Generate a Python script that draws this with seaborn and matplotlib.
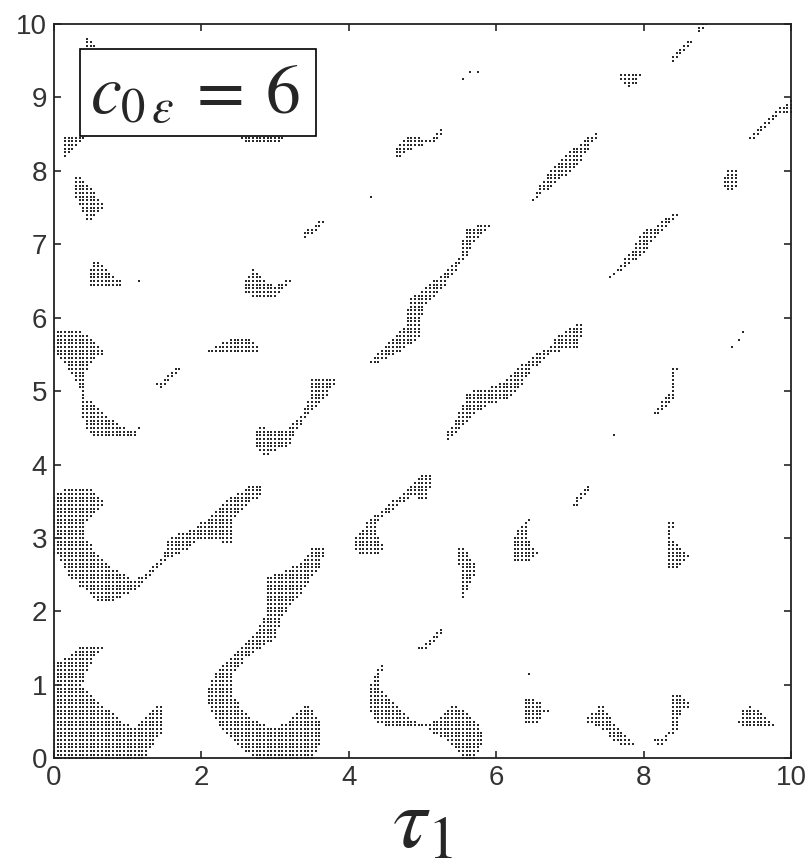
import numpy as np
import pandas as pd
import seaborn as sns
import matplotlib.pyplot as plt
from matplotlib.path import Path
from matplotlib.patches import Rectangle

# outlines of the filled regions in the (tau_1, tau_2) plane
blob_a = [(-0.02, -0.02), (-0.02, 1.3), (0.18, 1.38), (0.36, 1.52), (0.68, 1.52), (0.54, 1.34),
          (0.43, 1.16), (0.4, 1.0), (0.59, 0.79), (0.9, 0.52), (1.09, 0.43), (1.22, 0.52),
          (1.43, 0.74), (1.5, 0.66), (1.5, 0.43), (1.36, 0.2), (1.2, -0.02)]
blob_b = [(2.08, 0.93), (2.13, 1.07), (2.26, 1.25), (2.44, 1.43), (2.62, 1.57), (2.76, 1.75),
          (2.85, 1.93), (2.9, 2.29), (2.87, 2.47), (3.1, 2.55), (3.37, 2.68), (3.52, 2.88),
          (3.68, 2.88), (3.68, 2.79), (3.61, 2.61), (3.48, 2.43), (3.39, 2.3), (3.17, 2.02),
          (3.08, 1.88), (2.99, 1.61), (2.85, 1.52), (2.62, 1.38), (2.44, 1.16), (2.4, 0.93),
          (2.53, 0.7), (2.71, 0.52), (2.94, 0.43), (3.17, 0.47), (3.43, 0.74), (3.54, 0.6),
          (3.64, 0.47), (3.62, 0.25), (3.52, -0.02), (2.76, -0.02), (2.58, 0.11), (2.4, 0.25),
          (2.22, 0.47), (2.08, 0.75)]
blob_c = [(-0.02, 2.79), (-0.02, 3.57), (0.05, 3.63), (0.27, 3.69), (0.52, 3.66), (0.68, 3.47),
          (0.54, 3.34), (0.45, 3.2), (0.41, 3.02), (0.59, 2.79), (0.81, 2.57), (1.09, 2.43),
          (1.22, 2.5), (1.49, 2.79), (1.56, 3.02), (1.86, 3.11), (2.13, 3.29), (2.35, 3.52),
          (2.67, 3.72), (2.81, 3.72), (2.83, 3.57), (2.62, 3.47), (2.44, 3.25), (2.42, 2.93),
          (2.26, 2.95), (1.95, 2.95), (1.72, 2.79), (1.54, 2.7), (1.31, 2.47), (1.09, 2.29),
          (0.77, 2.13), (0.59, 2.13), (0.36, 2.34), (0.18, 2.52), (0.05, 2.75)]
blob_d = [(-0.02, 5.84), (0.27, 5.84), (0.45, 5.77), (0.59, 5.66), (0.68, 5.5), (0.54, 5.43),
          (0.45, 5.29), (0.43, 5.02), (0.45, 4.9), (0.68, 4.7), (0.9, 4.52), (1.05, 4.47),
          (1.22, 4.55), (1.1, 4.38), (0.59, 4.36), (0.43, 4.47), (0.38, 4.75), (0.36, 5.02),
          (0.32, 5.11), (0.18, 5.32), (0.03, 5.5), (-0.02, 5.5)]
blob_e = [(2.71, 4.45), (2.83, 4.55), (2.94, 4.47), (3.08, 4.45), (3.26, 4.57), (3.37, 4.68),
          (3.45, 4.9), (3.45, 5.16), (3.84, 5.16), (3.75, 5.0), (3.6, 4.8), (3.41, 4.62),
          (3.3, 4.45), (3.17, 4.25), (2.99, 4.18), (2.87, 4.12), (2.76, 4.18), (2.71, 4.29)]
blob_top = [(0.42, 9.84), (0.45, 9.84), (0.6, 9.66), (0.41, 9.64)]
blob_box_l = [(0.1, 8.46), (0.45, 8.47), (0.3, 8.33), (0.2, 8.2), (0.16, 8.17), (0.1, 8.32)]
blob_box_r = [(2.5, 8.46), (3.13, 8.46), (3.08, 8.38), (2.76, 8.37), (2.5, 8.41)]
blob_g1 = [(0.27, 7.96), (0.45, 7.84), (0.59, 7.66), (0.69, 7.5), (0.47, 7.28), (0.32, 7.61),
           (0.26, 7.66)]
blob_g2 = [(0.57, 6.8), (0.72, 6.63), (0.86, 6.52), (0.96, 6.49), (0.84, 6.4), (0.57, 6.4),
           (0.45, 6.44), (0.46, 6.61)]
blob_g3 = [(2.71, 6.67), (2.85, 6.52), (2.99, 6.43), (3.17, 6.52), (3.24, 6.55), (3.12, 6.38),
           (2.99, 6.26), (2.76, 6.26), (2.59, 6.35), (2.59, 6.5)]
blob_g4 = [(2.09, 5.57), (2.35, 5.68), (2.49, 5.74), (2.65, 5.71), (2.79, 5.57), (2.79, 5.49),
           (2.67, 5.55), (2.09, 5.54)]
blob_h = [(4.61, 8.27), (4.7, 8.39), (4.83, 8.48), (4.95, 8.48), (5.06, 8.41), (5.15, 8.48),
          (5.24, 8.55), (5.3, 8.59), (5.24, 8.43), (5.04, 8.36), (4.9, 8.32), (4.79, 8.25),
          (4.67, 8.15), (4.6, 8.2)]
blob_diag1 = [(4.27, 5.38), (4.52, 5.66), (4.74, 5.84), (4.83, 6.25), (5.06, 6.43), (5.33, 6.66),
              (5.53, 6.88), (5.56, 7.2), (5.78, 7.27), (5.92, 7.26), (5.87, 7.18), (5.69, 7.02),
              (5.6, 6.84), (5.47, 6.66), (5.29, 6.43), (5.06, 6.2), (4.99, 6.02), (4.99, 5.75),
              (4.83, 5.63), (4.7, 5.52), (4.47, 5.43), (4.31, 5.35)]
blob_diag2 = [(5.33, 4.32), (5.35, 4.47), (5.47, 4.66), (5.56, 4.84), (5.56, 4.98), (5.87, 5.03),
              (6.1, 5.14), (6.28, 5.3), (6.51, 5.48), (6.71, 5.6), (6.84, 5.75), (7.07, 5.9),
              (7.19, 5.94), (7.16, 5.85), (7.14, 5.6), (6.93, 5.56), (6.75, 5.5), (6.5, 5.3),
              (6.3, 5.0), (6.15, 4.88), (5.87, 4.8), (5.74, 4.7), (5.6, 4.57), (5.42, 4.41)]
blob_diag3 = [(6.44, 7.52), (6.51, 7.66), (6.68, 7.95), (6.8, 8.09), (7.0, 8.27), (7.2, 8.43),
              (7.39, 8.55), (7.36, 8.45), (7.2, 8.2), (7.02, 8.0), (6.8, 7.82), (6.66, 7.72),
              (6.55, 7.62)]
blob_diag4 = [(7.47, 6.46), (7.61, 6.64), (7.84, 6.91), (7.97, 7.16), (8.15, 7.25), (8.33, 7.39),
              (8.45, 7.44), (8.5, 7.43), (8.42, 7.32), (8.24, 7.18), (8.06, 6.95), (7.97, 6.82),
              (7.79, 6.73), (7.66, 6.61), (7.54, 6.49)]
blob_k = [(4.06, 2.93), (4.13, 3.06), (4.29, 3.25), (4.47, 3.41), (4.65, 3.54), (4.79, 3.68),
          (4.92, 3.79), (5.05, 3.89), (5.11, 3.89), (5.11, 3.72), (5.05, 3.52), (4.88, 3.57),
          (4.7, 3.47), (4.54, 3.34), (4.4, 3.2), (4.4, 3.02), (4.47, 2.88), (4.4, 2.76),
          (4.11, 2.8)]
blob_l = [(5.47, 2.85), (5.56, 2.85), (5.7, 2.68), (5.72, 2.5), (5.65, 2.36), (5.6, 2.25),
          (5.54, 2.15), (5.52, 2.4), (5.5, 2.6)]
blob_m = [(6.47, 3.3), (6.3, 3.13), (6.21, 2.95), (6.21, 2.7), (6.28, 2.65), (6.42, 2.65),
          (6.5, 2.75), (6.61, 2.79), (6.47, 2.92), (6.4, 3.08)]
blob_n = [(4.47, 1.27), (4.38, 1.18), (4.3, 1.02), (4.3, 0.61), (4.4, 0.46), (4.65, 0.42),
          (4.83, 0.42), (5.06, 0.4), (5.15, 0.34), (5.33, 0.25), (5.51, 0.09), (5.55, -0.02),
          (5.7, -0.02), (5.82, 0.2), (5.79, 0.43), (5.69, 0.54), (5.56, 0.66), (5.44, 0.73),
          (5.33, 0.66), (5.15, 0.5), (5.01, 0.47), (4.83, 0.52), (4.7, 0.66), (4.56, 0.79),
          (4.45, 0.93), (4.43, 1.13), (4.5, 1.28)]
blob_p = [(6.44, 0.98), (6.45, 0.85), (6.55, 0.8), (6.65, 0.7), (6.76, 0.66), (6.65, 0.6),
          (6.55, 0.49), (6.4, 0.49), (6.37, 0.6), (6.4, 0.85)]
blob_j = [(8.13, 4.72), (8.27, 4.88), (8.36, 5.0), (8.36, 5.29), (8.51, 5.33), (8.44, 5.24),
          (8.45, 5.0), (8.42, 4.9), (8.3, 4.78), (8.2, 4.65), (8.12, 4.66)]
blob_q = [(8.31, 3.21), (8.41, 3.21), (8.38, 3.0), (8.45, 2.92), (8.55, 2.82), (8.66, 2.73),
          (8.55, 2.69), (8.48, 2.61), (8.35, 2.56), (8.32, 2.65), (8.33, 2.85), (8.31, 3.0)]
blob_r = [(7.43, 0.73), (7.3, 0.6), (7.22, 0.52), (7.32, 0.45), (7.45, 0.4), (7.55, 0.3),
          (7.6, 0.21), (7.91, 0.15), (7.8, 0.25), (7.7, 0.35), (7.63, 0.45), (7.55, 0.58)]
blob_s = [(8.4, 0.89), (8.49, 0.89), (8.66, 0.72), (8.55, 0.65), (8.48, 0.55), (8.45, 0.38),
          (8.35, 0.3), (8.3, 0.2), (8.25, 0.15), (8.14, 0.22), (8.11, 0.26), (8.25, 0.3),
          (8.35, 0.38), (8.39, 0.5), (8.39, 0.7)]
blob_t = [(9.44, 0.73), (9.32, 0.63), (9.3, 0.5), (9.35, 0.44), (9.79, 0.44), (9.65, 0.55),
          (9.55, 0.65)]
blob_u = [(7.66, 9.24), (7.68, 9.31), (7.96, 9.31), (7.93, 9.2), (7.8, 9.14), (7.78, 9.1),
          (7.75, 9.15)]
blob_v = [(9.13, 8.01), (9.27, 8.01), (9.27, 7.78), (9.18, 7.69), (9.05, 7.82)]
blob_w = [(8.58, 9.72), (8.7, 9.85), (8.77, 10.02), (8.87, 10.02), (8.75, 9.87), (8.65, 9.75)]
blob_x = [(9.88, 8.78), (9.9, 8.9), (10.02, 8.96), (10.02, 8.8), (9.95, 8.76)]

regions = [blob_a, blob_b, blob_c, blob_d, blob_e, blob_top, blob_box_l, blob_box_r,
           blob_g1, blob_g2, blob_g3, blob_g4, blob_h, blob_diag1, blob_diag2, blob_diag3,
           blob_diag4, blob_k, blob_l, blob_m, blob_n, blob_p, blob_j, blob_q, blob_r, blob_s,
           blob_t, blob_u, blob_v, blob_w, blob_x]

# thin one-dot streaks (polyline, half width)
streak_1 = [(1.42, 5.12), (1.5, 5.1), (1.67, 5.3)]
streak_2 = [(3.41, 7.12), (3.62, 7.28)]
streak_3 = [(8.38, 9.52), (8.62, 9.76)]
streak_4 = [(9.47, 8.43), (9.78, 8.77), (9.99, 8.91)]
streak_5 = [(7.07, 3.45), (7.23, 3.68)]
streak_6 = [(5.03, 1.5), (5.24, 1.72)]
streaks = [(streak_1, 0.035), (streak_2, 0.04), (streak_3, 0.035), (streak_4, 0.035),
           (streak_5, 0.035), (streak_6, 0.035)]

# stray single dots
single_x = [5.53, 5.65, 5.74, 4.31, 1.13, 9.22, 9.28, 9.33, 7.59, 6.44, 1.47, 4.97]
single_y = [9.27, 9.33, 9.37, 7.63, 6.48, 5.59, 5.69, 5.79, 4.38, 1.17, 5.04, 1.52]

STEP = 0.05
grid = np.round(np.arange(0, 10 + STEP / 2, STEP), 2)
gx, gy = np.meshgrid(grid, grid)
pts = np.column_stack([gx.ravel(), gy.ravel()])


def near_line(p, line, half):
    line = np.asarray(line, float)
    d = np.full(len(p), np.inf)
    for a, b in zip(line[:-1], line[1:]):
        ab = b - a
        t = np.clip(((p - a) @ ab) / (ab @ ab), 0, 1)
        proj = a + t[:, None] * ab
        d = np.minimum(d, np.hypot(*(p - proj).T))
    return d <= half


mask = np.zeros(len(pts), bool)
for poly in regions:
    mask |= Path(poly).contains_points(pts)
for line, half in streaks:
    mask |= near_line(pts, line, half)
for sx, sy in zip(single_x, single_y):
    mask |= (np.abs(pts[:, 0] - sx) < STEP / 2) & (np.abs(pts[:, 1] - sy) < STEP / 2)

df = pd.DataFrame({"tau1": pts[mask, 0], "tau2": pts[mask, 1]})

sns.set_style("ticks")
plt.rcParams["font.family"] = ["Liberation Sans", "DejaVu Sans"]
plt.rcParams["mathtext.fontset"] = "stix"

fig = plt.figure(figsize=(8.09, 8.66), dpi=100)
ax = fig.add_axes([0.0667, 0.1244, 0.911, 0.8479])

sns.scatterplot(data=df, x="tau1", y="tau2", ax=ax, marker="s", s=1.6,
                color="#2a2a2a", linewidth=0, legend=False)

ax.set_xlim(0, 10)
ax.set_ylim(0, 10)
ax.set_xticks(range(0, 11, 2))
ax.set_yticks(range(0, 11, 1))
ax.tick_params(direction="in", length=5, width=1.2, top=True, right=True,
               labelsize=20, labelcolor="#333333", pad=5)
for sp in ax.spines.values():
    sp.set_linewidth(1.3)
    sp.set_color("#222222")
ax.set_ylabel("")
ax.set_xlabel(r"$\tau_1$", fontsize=62, labelpad=-5)

# label box
ax.add_patch(Rectangle((0.035, 0.848), 0.321, 0.118, transform=ax.transAxes,
                       facecolor="white", edgecolor="black", linewidth=1.2, zorder=5))
ax.text(0.192, 0.903, r"$c_{0\,\varepsilon}\:=\:6$", transform=ax.transAxes,
        fontsize=50, ha="center", va="center", zorder=6)

fig.savefig("out.png", dpi=100)
